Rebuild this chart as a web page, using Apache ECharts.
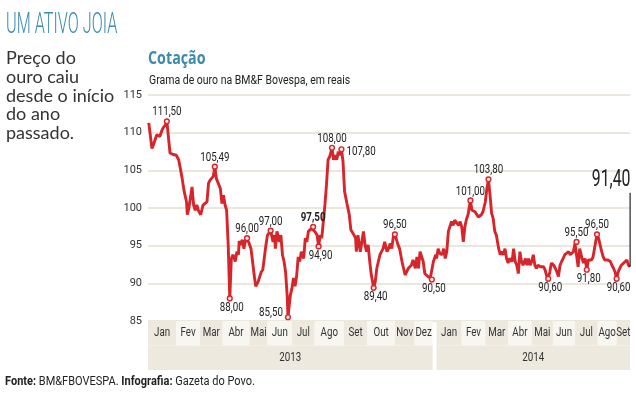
<!DOCTYPE html>
<html>
<head>
<meta charset="utf-8">
<script src="https://cdn.jsdelivr.net/npm/echarts@6/dist/echarts.min.js"></script>
<style>
html, body { margin: 0; padding: 0; background: #fff; }
#chart { width: 636px; height: 399px; }
</style>
</head>
<body>
<div id="chart"></div>
<script>
// cotação diária (grama de ouro, R$)
var dates = [
  '2013-01-02','2013-01-06','2013-01-08','2013-01-12','2013-01-16','2013-01-18','2013-01-20','2013-01-23','2013-01-25','2013-01-27',
  '2013-01-29','2013-02-02','2013-02-06','2013-02-09','2013-02-11','2013-02-13','2013-02-16','2013-02-19','2013-02-20','2013-02-22',
  '2013-02-26','2013-02-28','2013-03-02','2013-03-04','2013-03-06','2013-03-09','2013-03-12','2013-03-17','2013-03-19','2013-03-21',
  '2013-03-23','2013-03-25','2013-03-27','2013-03-29','2013-03-31','2013-04-03','2013-04-05','2013-04-07','2013-04-09','2013-04-11',
  '2013-04-13','2013-04-15','2013-04-17','2013-04-19','2013-04-22','2013-04-24','2013-04-26','2013-04-27','2013-04-29','2013-05-01',
  '2013-05-03','2013-05-05','2013-05-07','2013-05-09','2013-05-12','2013-05-14','2013-05-16','2013-05-18','2013-05-21','2013-05-23',
  '2013-05-25','2013-05-27','2013-05-29','2013-05-31','2013-06-02','2013-06-04','2013-06-06','2013-06-09','2013-06-11','2013-06-12',
  '2013-06-14','2013-06-17','2013-06-19','2013-06-21','2013-06-23','2013-06-25','2013-06-27','2013-06-28','2013-07-01','2013-07-03',
  '2013-07-05','2013-07-07','2013-07-09','2013-07-11','2013-07-13','2013-07-15','2013-07-18','2013-07-20','2013-07-22','2013-07-24',
  '2013-07-26','2013-07-28','2013-07-30','2013-08-01','2013-08-04','2013-08-06','2013-08-08','2013-08-10','2013-08-12','2013-08-14',
  '2013-08-16','2013-08-18','2013-08-20','2013-08-23','2013-08-25','2013-08-27','2013-08-29','2013-08-31','2013-09-02','2013-09-04',
  '2013-09-06','2013-09-08','2013-09-09','2013-09-11','2013-09-14','2013-09-16','2013-09-18','2013-09-20','2013-09-22','2013-09-23',
  '2013-09-25','2013-09-28','2013-09-30','2013-10-02','2013-10-04','2013-10-06','2013-10-08','2013-10-10','2013-10-12','2013-10-15',
  '2013-10-17','2013-10-19','2013-10-21','2013-10-23','2013-10-25','2013-10-27','2013-10-29','2013-11-01','2013-11-03','2013-11-05',
  '2013-11-07','2013-11-09','2013-11-11','2013-11-13','2013-11-15','2013-11-17','2013-11-20','2013-11-22','2013-11-24','2013-11-26',
  '2013-11-28','2013-11-30','2013-12-02','2013-12-04','2013-12-07','2013-12-09','2013-12-11','2013-12-13','2013-12-15','2013-12-17',
  '2013-12-19','2013-12-21','2013-12-23','2013-12-26','2013-12-28','2013-12-30','2014-01-02','2014-01-03','2014-01-05','2014-01-07',
  '2014-01-10','2014-01-12','2014-01-14','2014-01-16','2014-01-18','2014-01-20','2014-01-22','2014-01-24','2014-01-26','2014-01-29',
  '2014-01-31','2014-02-02','2014-02-04','2014-02-06','2014-02-08','2014-02-10','2014-02-12','2014-02-15','2014-02-17','2014-02-19',
  '2014-02-21','2014-02-23','2014-02-25','2014-02-27','2014-03-01','2014-03-03','2014-03-06','2014-03-08','2014-03-10','2014-03-12',
  '2014-03-14','2014-03-16','2014-03-18','2014-03-20','2014-03-23','2014-03-25','2014-03-27','2014-03-29','2014-03-31','2014-04-02',
  '2014-04-04','2014-04-06','2014-04-09','2014-04-11','2014-04-13','2014-04-15','2014-04-17','2014-04-19','2014-04-21','2014-04-23',
  '2014-04-26','2014-04-28','2014-04-30','2014-05-02','2014-05-04','2014-05-06','2014-05-08','2014-05-10','2014-05-12','2014-05-15',
  '2014-05-17','2014-05-19','2014-05-21','2014-05-23','2014-05-25','2014-05-27','2014-05-29','2014-06-01','2014-06-03','2014-06-05',
  '2014-06-07','2014-06-09','2014-06-11','2014-06-13','2014-06-15','2014-06-17','2014-06-20','2014-06-22','2014-06-24','2014-06-26',
  '2014-06-28','2014-06-30','2014-07-02','2014-07-04','2014-07-07','2014-07-09','2014-07-11','2014-07-13','2014-07-15','2014-07-17',
  '2014-07-19','2014-07-21','2014-07-23','2014-07-26','2014-07-28','2014-07-30','2014-08-01','2014-08-03','2014-08-05','2014-08-07',
  '2014-08-09','2014-08-12','2014-08-14','2014-08-16','2014-08-18','2014-08-20','2014-08-22','2014-08-24','2014-08-26','2014-08-29',
  '2014-08-31','2014-09-02','2014-09-04','2014-09-06'
];
var prices = [
  111.3,107.9,108.4,109.7,109.5,110.1,110.6,111.0,111.5,111.3,
  107.3,107.1,107.0,106.4,105.3,104.2,102.2,100.8,99.1,100.0,
  102.8,100.4,99.7,100.4,99.7,99.1,100.4,100.8,103.3,103.7,
  103.7,104.2,105.49,103.9,103.9,102.6,100.6,101.7,100.4,99.7,
  95.1,88.0,93.3,93.8,92.9,94.2,93.8,95.6,95.1,95.8,
  94.6,95.8,96.0,95.5,94.6,92.9,91.1,89.6,90.2,90.0,
  91.5,91.8,92.0,95.1,96.4,96.4,97.0,95.5,96.4,94.6,
  96.9,95.5,96.4,93.8,92.9,91.5,88.4,85.5,88.4,89.3,
  90.7,89.6,90.9,93.5,92.9,94.2,93.3,96.0,95.5,96.9,
  97.1,97.3,97.5,96.9,96.4,94.9,96.4,96.0,98.2,100.4,
  103.1,106.4,106.8,108.0,106.4,107.0,106.4,107.5,107.0,107.8,
  106.2,102.2,102.4,100.6,99.1,97.1,96.9,96.4,96.0,94.2,
  96.4,94.2,95.5,96.9,95.1,94.2,95.1,92.9,91.1,89.4,
  90.2,92.0,92.9,93.8,94.2,94.6,95.5,94.2,94.6,95.3,
  94.6,96.2,96.5,95.8,95.1,94.6,92.9,92.0,91.1,91.3,
  92.0,91.8,92.4,93.1,92.0,93.5,92.0,94.2,94.4,92.9,
  91.3,91.1,90.9,90.7,90.5,92.9,93.8,93.3,94.6,94.0,
  93.8,94.6,93.3,94.2,96.9,97.1,98.2,97.7,98.4,98.0,
  97.7,98.2,97.5,95.5,97.5,98.5,99.1,101.0,99.7,99.5,
  99.5,99.3,98.8,98.6,99.1,99.5,100.8,102.6,103.8,101.7,
  99.3,98.6,96.9,96.4,94.6,93.8,94.2,93.8,94.6,93.3,
  92.7,93.3,92.9,94.6,92.9,92.4,91.3,94.2,92.9,92.4,
  93.3,92.4,93.3,92.4,92.9,93.8,92.4,92.0,92.4,92.2,
  92.4,92.2,91.8,91.0,90.6,91.5,92.7,92.4,92.0,91.5,
  90.9,92.4,92.9,93.3,93.8,94.0,94.2,93.8,94.0,94.2,
  95.3,95.5,92.2,94.6,93.3,92.7,93.3,91.8,93.1,93.3,
  93.1,93.5,93.5,96.5,96.0,95.1,94.2,93.5,93.1,93.1,
  93.1,92.9,92.4,92.0,91.5,90.6,91.5,92.0,92.4,92.7,
  92.9,93.1,92.4,92.2
];

// pontos destacados (máximas e mínimas)
var noteDates = [
  '2013-01-25','2013-03-27','2013-04-15','2013-05-07','2013-06-06','2013-06-28','2013-07-30','2013-08-06',
  '2013-08-23','2013-09-04','2013-10-15','2013-11-11','2013-12-28','2014-02-15','2014-03-10','2014-05-25',
  '2014-06-30','2014-07-13','2014-07-26','2014-08-20'
];
var lastLabel = '91,40';

// eixo y
var yMin = 85, yMax = 115, yStep = 5;

// faixa de meses / anos
var years = ['2013', '2014'];
var yearEnds = ['2013-12-29', '2014-09-06'];
var months2013 = ['Jan','Fev','Mar','Abr','Mai','Jun','Jul','Ago','Set','Out','Nov','Dez'];
var starts2013 = ['2013-01-01','2013-02-06','2013-03-08','2013-04-06','2013-05-10','2013-06-02','2013-07-03','2013-08-01','2013-09-07','2013-10-07','2013-11-11','2013-12-06'];
var months2014 = ['Jan','Fev','Mar','Abr','Mai','Jun','Jul','Ago','Set'];
var starts2014 = ['2014-01-03','2014-02-04','2014-03-06','2014-04-04','2014-05-04','2014-05-31','2014-06-28','2014-07-27','2014-08-20'];

var SANS = 'Roboto, "Liberation Sans", sans-serif';
var RED = '#d6262b';
var TEAL = '#3b8bab';
var TAN = '#eee9de';
var LIGHT = '#f8f6f1';
var NARROW = 0.78; // horizontal squeeze to mimic the condensed face

// label placement per note (style only)
var notePos = ['top','top','bottom','top','top','left','top','bottom',
               'top','right','bottom','top','bottom','top','top','bottom',
               'top','bottom','top','bottom'];

var series = [];
for (var i = 0; i < dates.length; i++) {
  series.push([dates[i], prices[i]]);
}

function fmt(v) {
  return v.toFixed(2).replace('.', ',');
}

// [date, value, text]
var notes = [];
for (var k = 0; k < noteDates.length; k++) {
  var v = prices[dates.indexOf(noteDates[k])];
  notes.push([noteDates[k], v, fmt(v)]);
}
var li = dates.length - 1;
notes.push([dates[li], prices[li], lastLabel]);
notePos.push('last');

// month / year cells: [start, end, row, label, fill]
var cells = [];
function addYear(names, starts, yEnd) {
  for (var i = 0; i < names.length; i++) {
    var end = i < names.length - 1 ? starts[i + 1] : yEnd;
    cells.push([starts[i], end, 1, names[i], i % 2 == 0 ? TAN : LIGHT]);
  }
}
addYear(months2013, starts2013, yearEnds[0]);
addYear(months2014, starts2014, yearEnds[1]);
cells.push([starts2013[0], yearEnds[0], 0, years[0], TAN]);
cells.push([starts2014[0], yearEnds[1], 0, years[1], TAN]);

function renderNote(params, api) {
  var p = api.coord([api.value(0), api.value(1)]);
  var k = params.dataIndex;
  var pos = notePos[k];
  var txt = notes[k][2];
  if (pos == 'last') {
    return {
      type: 'group',
      children: [
        { type: 'rect', shape: { x: p[0] - 0.5, y: p[1] - 74, width: 1.2, height: 74 }, style: { fill: '#222' } },
        { type: 'text', x: p[0] + 0.5, y: p[1] - 75, scaleX: 0.66,
          style: { text: txt, font: '24px ' + SANS, fill: '#222', align: 'right', verticalAlign: 'bottom' } }
      ]
    };
  }
  var dx = 0, dy = 0, align = 'center';
  if (pos == 'top') dy = -9;
  else if (pos == 'bottom') { dy = 9; dx = 2; }
  else if (pos == 'left') { dx = -5; dy = -4; align = 'right'; }
  else if (pos == 'right') { dx = 5; dy = 3; align = 'left'; }
  var bold = noteDates[k] == '2013-07-30';
  return {
    type: 'group',
    children: [
      { type: 'circle', shape: { cx: p[0], cy: p[1], r: 2.4 }, style: { fill: '#fbe9e9', stroke: RED, lineWidth: 1.4 } },
      { type: 'text', x: p[0] + dx, y: p[1] + dy, scaleX: NARROW,
        style: { text: txt, font: (bold ? 'bold ' : '') + '12.5px ' + SANS, fill: '#222', align: align, verticalAlign: 'middle' } }
    ]
  };
}

function renderCell(params, api) {
  var p0 = api.coord([api.value(0), api.value(2) + 1]);
  var p1 = api.coord([api.value(1), api.value(2)]);
  var d = cells[params.dataIndex];
  return {
    type: 'group',
    children: [
      { type: 'rect', shape: { x: p0[0], y: p0[1], width: p1[0] - p0[0], height: p1[1] - p0[1] }, style: { fill: d[4] } },
      { type: 'text', x: (p0[0] + p1[0]) / 2, y: (p0[1] + p1[1]) / 2, scaleX: NARROW,
        style: { text: d[3], font: '12.5px ' + SANS, fill: '#333', align: 'center', verticalAlign: 'middle' } }
    ]
  };
}

var chart = echarts.init(document.getElementById('chart'));
var option = {
  animation: false,
  backgroundColor: '#fff',
  grid: [
    { left: 148, top: 95, width: 482, height: 226 },
    { left: 148, top: 321, width: 482, height: 49 }
  ],
  xAxis: [
    { type: 'time', gridIndex: 0, min: '2013-01-01', max: yearEnds[1], show: false },
    { type: 'time', gridIndex: 1, min: '2013-01-01', max: yearEnds[1], show: false }
  ],
  yAxis: [
    {
      type: 'value', gridIndex: 0, min: yMin, max: yMax, interval: yStep,
      axisLine: { show: false }, axisTick: { show: false },
      axisLabel: { color: '#333', fontSize: 11, fontFamily: SANS, margin: 6 },
      splitLine: { lineStyle: { color: '#ece7db', width: 2 } }
    },
    { type: 'value', gridIndex: 1, min: 0, max: 2, show: false }
  ],
  graphic: [
    { type: 'text', x: 6, y: 11, scaleX: 0.56, style: { text: 'UM ATIVO JOIA', font: '300 29px Roboto, sans-serif', fill: TEAL } },
    { type: 'text', x: 6, y: 49, style: { text: 'Preço do\nouro caiu\ndesde o início\ndo ano\npassado.', font: '18px Lato, sans-serif', fill: '#333', lineHeight: 18.7 } },
    { type: 'text', x: 148, y: 51, scaleX: 0.84, style: { text: 'Cotação', font: 'bold 17px "Open Sans", sans-serif', fill: TEAL } },
    { type: 'text', x: 149, y: 74, scaleX: 0.84, style: { text: 'Grama de ouro na BM&F Bovespa, em reais', font: '12.5px ' + SANS, fill: '#222' } },
    {
      type: 'text', x: 5, y: 375, scaleX: 0.88,
      style: {
        text: '{b|Fonte:} BM&FBOVESPA. {b|Infografia:} Gazeta do Povo.',
        font: '12.5px ' + SANS, fill: '#222',
        rich: { b: { fontWeight: 'bold', fontSize: 12.5, fontFamily: SANS, fill: '#222' } }
      }
    }
  ],
  series: [
    {
      type: 'line',
      xAxisIndex: 0, yAxisIndex: 0,
      data: series,
      showSymbol: false,
      lineStyle: { color: RED, width: 2.9 },
      z: 3
    },
    {
      type: 'custom',
      xAxisIndex: 0, yAxisIndex: 0,
      silent: true,
      z: 4,
      data: notes,
      encode: { x: 0, y: 1 },
      renderItem: renderNote
    },
    {
      type: 'custom',
      xAxisIndex: 1, yAxisIndex: 1,
      silent: true,
      data: cells,
      encode: { x: [0, 1], y: 2 },
      renderItem: renderCell
    }
  ]
};
chart.setOption(option);
</script>
</body>
</html>
